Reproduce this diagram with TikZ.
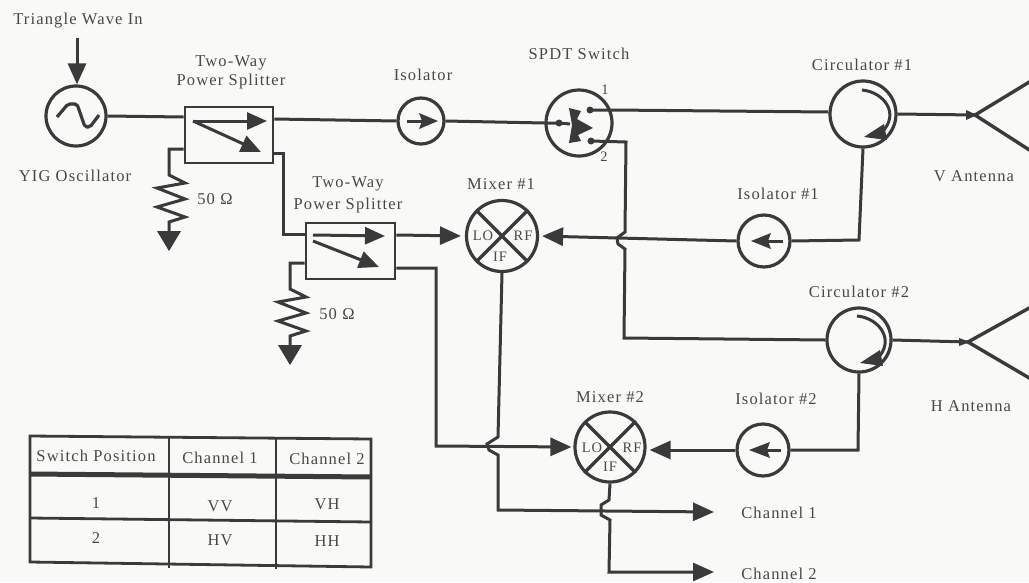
\documentclass[tikz,border=0pt]{standalone}
\usepackage{fontspec}
\setmainfont[LetterSpace=7]{Liberation Serif}
\usetikzlibrary{arrows.meta}
\definecolor{ink}{HTML}{3A3A3A}
\definecolor{txt}{HTML}{484848}
\definecolor{paper}{HTML}{F9F9F7}
\tikzset{
  x=1pt,y=-1pt,
  wire/.style={draw=ink,line width=3pt,line join=miter},
  head/.style={-{Triangle[length=21pt,width=18pt]}},
  smallhead/.style={-{Triangle[length=20pt,width=17pt]}},
  ring/.style={circle,draw=ink,line width=3.2pt,inner sep=0pt,fill=none},
  box/.style={rectangle,draw=ink,line width=2.7pt,inner sep=0pt},
  lab/.style={text=txt,font=\fontsize{16.5}{18}\selectfont,inner sep=0pt,align=center},
  tiny/.style={text=txt,font=\fontsize{14.5}{16}\selectfont,inner sep=0pt},
  cell/.style={text=txt,font=\fontsize{16.5}{18}\selectfont,inner sep=0pt},
  tab/.style={draw=ink,line width=2.8pt},
}
\begin{document}
\begin{tikzpicture}
\useasboundingbox (0,0) rectangle (1029,582);
\fill[paper] (0,0) rectangle (1029,582);

% ---- components
\node[ring,minimum size=60pt] (osc) at (76,116) {};
\node[box,minimum width=88pt,minimum height=56pt] (sp1) at (229,135) {};
\node[box,minimum width=89pt,minimum height=56pt] (sp2) at (350.5,251) {};
\node[ring,minimum size=46pt] (iso) at (421,121) {};
\node[ring,minimum size=66pt] (sw) at (579,123) {};
\node[ring,minimum size=66pt] (circa) at (863,114) {};
\node[ring,minimum size=64pt] (circb) at (859,340) {};
\node[ring,minimum size=52pt] (isoa) at (764,241) {};
\node[ring,minimum size=52pt] (isob) at (763,450) {};
\node[ring,minimum size=71pt] (mixa) at (502,236) {};
\node[ring,minimum size=70pt] (mixb) at (610,447) {};

% ---- labels
\node[lab] (ltri) at (78,21) {Triangle Wave In};
\node[lab] (lsp1) at (231,72) {Two-Way\\[1pt]Power Splitter};
\node[lab] (losc) at (75,176) {YIG Oscillator};
\node[lab] (lr1) at (215,199) {50\,\,Ω};
\node[lab] (lsp2) at (348,195) {Two-Way\\[4pt]Power Splitter};
\node[lab] (lr2) at (337,314) {50\,\,Ω};
\node[lab] (liso) at (423,75) {Isolator};
\node[lab] (lsw) at (579,54) {SPDT Switch};
\node[tiny] (lone) at (605,90) {1};
\node[tiny] (ltwo) at (604,157) {2};
\node[lab] (lmixa) at (501,184) {Mixer \#1};
\node[lab] (lcirca) at (862,65) {Circulator \#1};
\node[lab] (lva) at (974,176) {V Antenna};
\node[lab] (lisoa) at (778,194) {Isolator \#1};
\node[lab] (lcircb) at (859,292) {Circulator \#2};
\node[lab] (lisob) at (776,399) {Isolator \#2};
\node[lab] (lha) at (971,406) {H Antenna};
\node[lab] (lmixb) at (610,397) {Mixer \#2};
\node[lab] (chone) at (779,513) {Channel 1};
\node[lab] (chtwo) at (779,574) {Channel 2};
\node[tiny] (mal) at (483,236) {LO};
\node[tiny] (mar) at (523,236) {RF};
\node[tiny] (mai) at (500,257) {IF};
\node[tiny] (mbl) at (592,448) {LO};
\node[tiny] (mbr) at (632,448) {RF};
\node[tiny] (mbi) at (610,467) {IF};

% ---- named ports
\coordinate (trisrc) at (77,38);
\coordinate (hornv) at (975,115);
\coordinate (hornh) at (968,342);
\coordinate (swin) at (559,123);
\coordinate (swa) at (590,110);
\coordinate (swb) at (591,141);
\coordinate (chonetip) at (714,512);
\coordinate (chtwotip) at (714,572);

% ---- connectors
\draw[wire,head] (trisrc) -- (osc.north -| trisrc);
\draw[wire] (osc.east) -- (sp1.west |- 0,117);
\draw[wire] (sp1.east |- 0,119) -- (iso.west);
\draw[wire] (iso.east) -- (sw.west);
\draw[wire] (sw.west) -- (swin) -- (570,124);
\draw[wire] (swa) -- (612,110) -- (circa.west |- 0,112);
\draw[wire] (circa.east) -- (hornv);
\draw[wire] (swb) -- (626,142) -- (625,232) -- (617,238) -- (618,244) -- (625,249) -- (624,338) -- (circb.west);
\draw[wire] (circb.east) -- (hornh);
\draw[wire] (circa.south) -- (859,240) -- (isoa.east);
\draw[wire,head,shorten >=3pt] (isoa.west) -- (mixa.east);
\draw[wire] (circb.south) -- (858,450) -- (isob.east);
\draw[wire,head,shorten >=3pt] (isob.west) -- (mixb.east |- isob.west);
\draw[wire] (sp1.east |- 0,153) -- (283,153) -- (283,234) -- (sp2.west |- 0,234);
\draw[wire,head,shorten >=4pt] (sp2.east |- 0,235) -- (mixa.west);
\draw[wire,head,shorten >=2pt] (sp2.east |- 0,268) -- (436,268) -- (436,446) -- (mixb.west);
\draw[wire,head] (mixa.south) -- (498,437) -- (487,444) -- (489,450) -- (498,455) -- (498,510) -- (chonetip);
\draw[wire,head] (mixb.south) -- (609,500) -- (601,505) -- (601,515) -- (610,520) -- (609,572) -- (chtwotip);

% ---- horns
\draw[wire,line width=3.4pt] (1031,81) -- (hornv) -- (1031,151);
\draw[wire,line width=3.4pt] (1031,307) -- (hornh) -- (1031,379);
\fill[ink] (hornv) ++(2,0) -- ++(-11,-5) -- ++(0,10) -- cycle;
\fill[ink] (hornh) ++(2,0) -- ++(-11,-4) -- ++(0,8) -- cycle;

% ---- oscillator symbol
\draw[ink,line width=3.2pt,rounded corners=2pt] (57,117) -- (68,104) -- (77,104) -- (85,127) -- (90,127) -- (99,115);

% ---- splitter internals
\draw[wire,smallhead] (193,121) -- (267,121);
\draw[wire,smallhead] (193,121) -- (261,152);
\draw[wire,smallhead] (313,235) -- (385,236);
\draw[wire,smallhead] (313,241) -- (379,267);

% ---- terminations
\draw[wire] (sp1.west |- 0,149) -- (169,149) -- (169,175) -- (185,183) -- (157,188) -- (185,199) -- (157,207) -- (185,217) -- (169,222) -- (169,232);
\fill[ink] (157,231) -- (181,231) -- (169,251) -- cycle;
\draw[wire] (sp2.west |- 0,263) -- (290,263) -- (290,289) -- (306,297) -- (278,302) -- (306,313) -- (278,321) -- (306,331) -- (290,336) -- (290,346);
\fill[ink] (278,345) -- (302,345) -- (290,365) -- cycle;

% ---- isolator arrows
\draw[wire] (407,121) -- (425,121);
\fill[ink] (438,121) -- (419,113) -- (422,121) -- (419,129) -- cycle;
\draw[wire] (783,241) -- (765,241);
\fill[ink] (751,241) -- (771,233) -- (768,241) -- (771,249) -- cycle;
\draw[wire] (781,450) -- (763,450);
\fill[ink] (749,450) -- (770,442) -- (767,450) -- (770,458) -- cycle;

% ---- switch contacts
\fill[ink] (swin) circle (3.5pt) (swa) circle (3.5pt) (swb) circle (3.5pt);
\fill[ink] (569,108) -- (581,111) -- (577,119) -- (593,128) -- (578,135) -- (581,141) -- (569,143) -- (572,125) -- cycle;

% ---- mixer crosses
\draw[wire,line width=3.4pt] (mixa.45) -- (mixa.225) (mixa.135) -- (mixa.315);
\draw[wire,line width=3.4pt] (mixb.45) -- (mixb.225) (mixb.135) -- (mixb.315);

% ---- circulators
\draw[ink,line width=3pt] (862,90) .. controls (884,92) and (901,114) .. (881,133);
\fill[ink] (864,137) -- (884,124) -- (887,140) -- cycle;
\draw[ink,line width=3pt] (857,316) .. controls (879,318) and (896,340) .. (877,359);
\fill[ink] (860,363) -- (880,350) -- (883,366) -- cycle;

% ---- table
\draw[tab] (30,436) -- (371,439) -- (371,567) -- (30,562) -- cycle;
\draw[tab] (169,436) -- (169,568);
\draw[tab] (276,438) -- (276,569);
\draw[tab,line width=5pt] (30,474) -- (371,477);
\draw[tab] (30,518) -- (371,522);
\node[cell] (t00) at (96,456) {Switch Position};
\node[cell] (t01) at (220,458) {Channel 1};
\node[cell] (t02) at (327,459) {Channel 2};
\node[cell] (t10) at (96,503) {1};
\node[cell] (t11) at (220,506) {VV};
\node[cell] (t12) at (327,504) {VH};
\node[cell] (t20) at (96,538) {2};
\node[cell] (t21) at (220,540) {HV};
\node[cell] (t22) at (327,541) {HH};
\end{tikzpicture}
\end{document}
